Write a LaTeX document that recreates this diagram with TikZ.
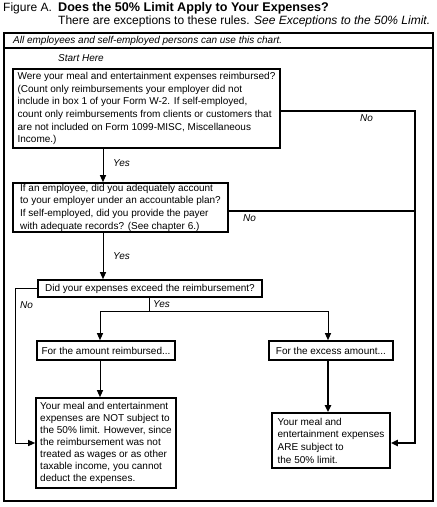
\documentclass[tikz,border=0pt]{standalone}
\usepackage{fontspec}
\setmainfont{Liberation Sans}
\usetikzlibrary{arrows.meta}
\begin{document}
\begin{tikzpicture}[x=1pt,y=-1pt,
  every node/.style={inner sep=0pt, font=\fontsize{10}{12.7}\selectfont},
  box/.style={draw, line width=1.6pt, align=left},
  ttl/.style={anchor=base west, font=\fontsize{12}{13}\selectfont},
  lbl/.style={anchor=west, font=\fontsize{10}{12}\selectfont\itshape},
  conn/.style={line width=1pt},
  heavy/.style={line width=1.8pt},
  arr/.style={-{Triangle[width=6pt,length=7pt]}},
  frame/.style={line width=1.4pt}
]
\useasboundingbox (0,0) rectangle (437,507);
% title
\node[ttl] (fig) at (3,11) {Figure A.};
\node[ttl, font=\fontsize{12.6}{13}\selectfont\bfseries] (title) at (58,11) {Does the 50\% Limit Apply to Your Expenses?};
\node[ttl] (sub) at (58,24) {There are exceptions to these rules. \textit{See Exceptions to the 50\% Limit.}};
% frame
\draw[frame] (4,33) rectangle (433,501);
\draw[frame] (4,48) -- (433,48);
\node[lbl] (hdr) at (13,41) {All employees and self-employed persons can use this chart.};
\node[lbl, anchor=center] (start) at (81,58) {Start Here};
% boxes
\node[box, minimum width=267pt, minimum height=79pt] (q1) at (146.5,108.5)
 {Were your meal and entertainment expenses reimbursed?\\
  (Count only reimbursements your employer did not\\
  include in box 1 of your Form W-2. If self-employed,\\
  count only reimbursements from clients or customers that\\
  are not included on Form 1099-MISC, Miscellaneous\\
  Income.)};
\node[box, minimum width=215pt, minimum height=49pt] (q2) at (120.5,207.5)
 {If an employee, did you adequately account\\
  to your employer under an accountable plan?\\
  If self-employed, did you provide the payer\\
  with adequate records? (See chapter 6.)};
\node[box, minimum width=224pt, minimum height=17pt] (q3) at (150,288.5)
 {Did your expenses exceed the reimbursement?};
\node[box, minimum width=138pt, minimum height=19pt] (r1) at (106,350.5)
 {For the amount reimbursed...};
\node[box, minimum width=124pt, minimum height=19pt] (r2) at (331,350.5)
 {For the excess amount...};
\node[box, minimum width=140pt, minimum height=90pt, font=\fontsize{10}{12.1}\selectfont] (a4) at (106,443)
 {Your meal and entertainment\\
  expenses are NOT subject to\\
  the 50\% limit. However, since\\
  the reimbursement was not\\
  treated as wages or as other\\
  taxable income, you cannot\\
  deduct the expenses.};
\node[box, minimum width=118pt, minimum height=55pt] (a5) at (331,440.5)
 {Your meal and\\
  entertainment expenses\\
  ARE subject to\\
  the 50\% limit.};
% coordinates
\coordinate (cx1) at (103,0);
\coordinate (rtop) at (415,111);
\coordinate (rbot) at (415,443);
\coordinate (rmid) at (415,211);
\coordinate (ltop) at (15,288.5);
\coordinate (lbot) at (15,443);
\coordinate (split) at (149,311);
\coordinate (cx2) at (100,0);
\coordinate (cx3) at (328,0);
% connectors
\draw[conn, arr] (q1.south -| cx1) -- (q2.north -| cx1);
\draw[conn, arr] (q2.south -| cx1) -- (q3.north -| cx1);
\draw[heavy, arr] (q1.east |- rtop) -- (rtop) -- (rbot) -- (a5.east |- rbot);
\draw[heavy] (q2.east |- rmid) -- (rmid);
\draw[conn, arr] (q3.west) -- (ltop) -- (lbot) -- (a4.west |- lbot);
\draw[conn] (q3.south -| split) -- (split);
\draw[conn, arr] (split) -| (r1.north -| cx2);
\draw[conn, arr] (split) -| (r2.north -| cx3);
\draw[conn, arr] (r1.south -| cx2) -- (a4.north -| cx2);
\draw[heavy, arr] (r2.south -| cx3) -- (a5.north -| cx3);
% labels
\node[lbl] (y1) at (113,163) {Yes};
\node[lbl] (y2) at (113,256) {Yes};
\node[lbl] (y3) at (153,304) {Yes};
\node[lbl] (n1) at (360,118) {No};
\node[lbl] (n2) at (243,218) {No};
\node[lbl] (n3) at (20,305) {No};
\end{tikzpicture}
\end{document}
